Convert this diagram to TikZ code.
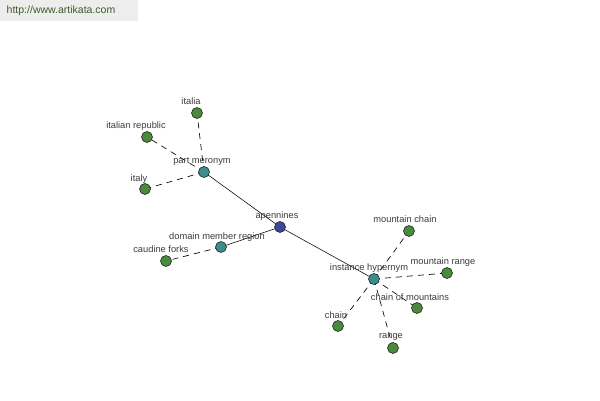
\documentclass[tikz,border=0pt]{standalone}
\usepackage{fontspec}
\setmainfont{Liberation Sans}
\usetikzlibrary{backgrounds}
\definecolor{leaf}{HTML}{4A8A3C}
\definecolor{rel}{HTML}{3A8E8E}
\definecolor{root}{HTML}{3C4A96}
\definecolor{txt}{HTML}{3C3C3C}
\definecolor{wm}{HTML}{3E5A2A}
\tikzset{
  dot/.style={circle,draw=black!85,line width=0.6pt,minimum size=11pt,inner sep=0pt},
  leafdot/.style={dot,fill=leaf},
  reldot/.style={dot,fill=rel},
  rootdot/.style={dot,fill=root},
  lbl/.style={text=txt,font=\fontsize{9.3}{10}\selectfont,inner sep=0pt},
  solidedge/.style={draw=black,line width=0.55pt},
  dashedge/.style={draw=black,line width=0.65pt,dash pattern=on 6pt off 5pt},
}
\begin{document}
\begin{tikzpicture}[x=1pt,y=-1pt]
\useasboundingbox (0,0) rectangle (600,400);

% nodes
\node[rootdot] (ap) at (280,227) {};
\node[reldot] (pm) at (204,172) {};
\node[reldot] (dmr) at (221,247) {};
\node[reldot] (ih) at (374,279) {};
\node[leafdot] (italia) at (197,113) {};
\node[leafdot] (ir) at (147,137) {};
\node[leafdot] (italy) at (145,189) {};
\node[leafdot] (cf) at (166,261) {};
\node[leafdot] (mc) at (409,231) {};
\node[leafdot] (mr) at (447,273) {};
\node[leafdot] (com) at (417,308) {};
\node[leafdot] (chain) at (338,326) {};
\node[leafdot] (range) at (393,348) {};

% background and edges
\begin{pgfonlayer}{background}
\fill[white] (0,0) rectangle (600,400);
\fill[black!7] (0,0) rectangle (138,21);
\draw[solidedge] (ap.center) -- (pm.center);
\draw[solidedge] (ap.center) -- (dmr.center);
\draw[solidedge] (ap.center) -- (ih.center);
\draw[dashedge] (pm.center) -- (italia.center);
\draw[dashedge] (pm.center) -- (ir.center);
\draw[dashedge] (pm.center) -- (italy.center);
\draw[dashedge] (dmr.center) -- (cf.center);
\draw[dashedge] (ih.center) -- (mc.center);
\draw[dashedge] (ih.center) -- (mr.center);
\draw[dashedge] (ih.center) -- (com.center);
\draw[dashedge] (ih.center) -- (chain.center);
\draw[dashedge] (ih.center) -- (range.center);
\end{pgfonlayer}

\node[text=wm,font=\fontsize{10.5}{11}\selectfont,inner sep=0pt] (wmark) at (61,11) {http://www.artikata.com};

% labels
\node[lbl] (l-ap) at (277,216) {apennines};
\node[lbl] (l-pm) at (202,161) {part meronym};
\node[lbl] (l-dmr) at (217,237) {domain member region};
\node[lbl] (l-ih) at (369,268) {instance hypernym};
\node[lbl] (l-italia) at (191,101) {italia};
\node[lbl] (l-ir) at (136,126) {italian republic};
\node[lbl] (l-italy) at (139,179) {italy};
\node[lbl] (l-cf) at (161,249) {caudine forks};
\node[lbl] (l-mc) at (405,219) {mountain chain};
\node[lbl] (l-mr) at (443,262) {mountain range};
\node[lbl] (l-com) at (410,297) {chain of mountains};
\node[lbl] (l-chain) at (336,315) {chain};
\node[lbl] (l-range) at (391,337) {range};
\end{tikzpicture}
\end{document}
